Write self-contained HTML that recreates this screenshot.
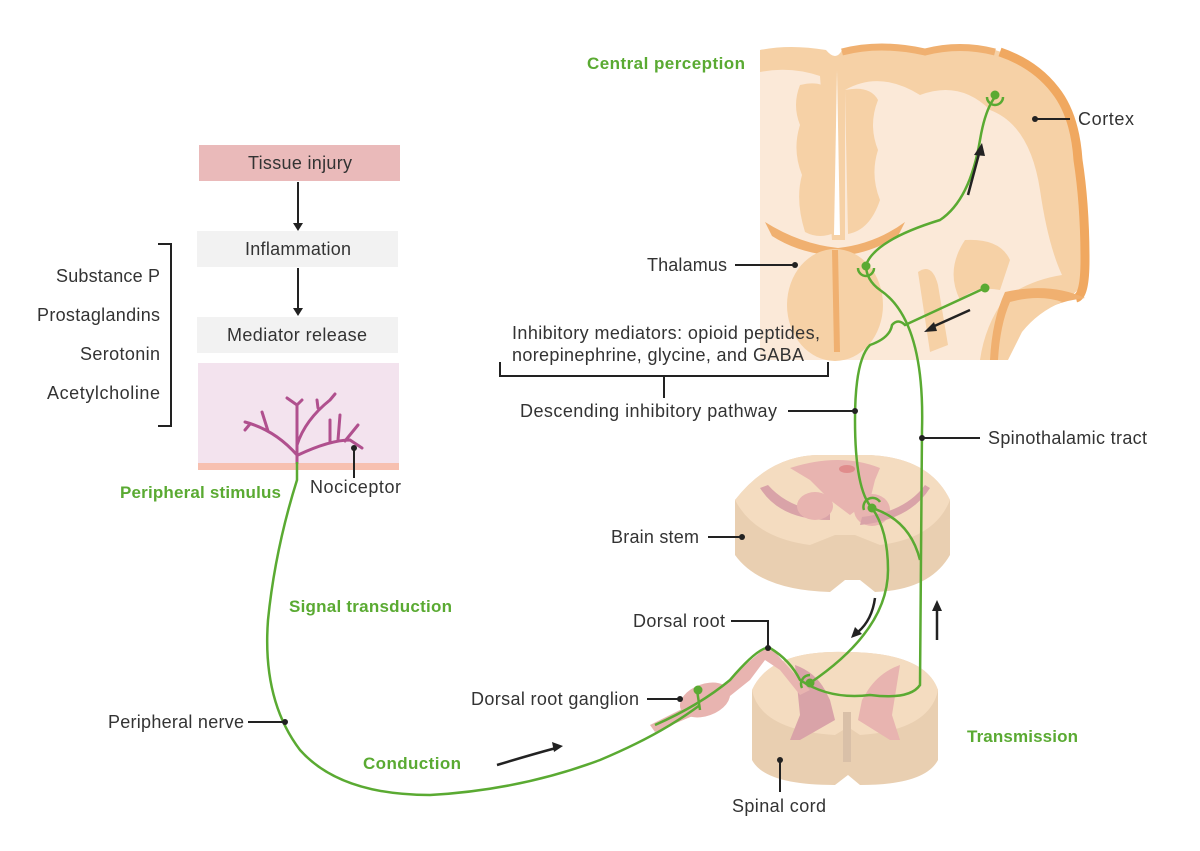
<!DOCTYPE html>
<html><head><meta charset="utf-8"><style>
html,body{margin:0;padding:0;background:#fff}
svg{display:block}
text{font-family:"Liberation Sans",sans-serif;font-size:18px;fill:#333}
.g{fill:#5aaa32;font-weight:bold;font-size:17px}
</style></head><body>
<svg width="1200" height="851" viewBox="0 0 1200 851" xmlns="http://www.w3.org/2000/svg">
<!-- Brain -->
<path d="M760 50 Q790 44 826 50 Q836 62 842 50 Q880 40 925 50 Q960 40 995 50 Q1035 62 1055 90 Q1075 115 1078 160 Q1085 205 1085 260 Q1085 296 1062 298 Q1030 300 1010 322 Q996 340 992 360 L760 360 Z" fill="#f6d1a6"/>
<path d="M1000 52 Q1035 64 1055 90 Q1075 115 1078 160 Q1085 205 1085 260 Q1085 296 1076 298" fill="none" stroke="#f0a860" stroke-width="9"/>
<path d="M842 52 Q880 42 925 52 Q960 43 995 52" fill="none" stroke="#f0b070" stroke-width="7"/>
<path d="M760 72 Q790 66 820 76 L832 240 L760 240 Z" fill="#fbe9d8"/>
<path d="M845 90 Q880 70 920 95 Q960 80 990 110 Q1030 125 1040 190 Q1048 245 1062 275 Q1030 280 1005 298 Q985 325 980 360 L850 360 L845 240 Z" fill="#fbe9d8"/>
<path d="M760 240 L850 240 L850 360 L760 360 Z" fill="#fbe9d8"/>
<!-- midline gyri -->
<path d="M800 85 Q820 80 830 90 L836 232 Q820 240 805 232 Q795 200 802 175 Q792 150 800 125 Q792 105 800 85 Z" fill="#f6d1a6"/>
<path d="M845 90 Q870 85 878 100 Q868 125 878 150 Q870 175 880 200 Q870 230 848 234 Z" fill="#f6d1a6"/>
<path d="M837 70 L840 235 L834 235 Z" fill="#fff"/>
<!-- thalamus region -->
<path d="M765 222 Q800 244 838 248 Q875 244 905 222 L898 236 Q870 254 838 256 Q800 254 772 236 Z" fill="#f0b070"/>
<ellipse cx="835" cy="305" rx="48" ry="56" fill="#f6d1a6"/>
<path d="M832 250 L838 250 L840 352 L834 352 Z" fill="#f0b070"/>
<!-- lower right -->
<path d="M965 240 Q1000 238 1010 260 L1000 290 Q975 285 960 300 Q945 270 965 240 Z" fill="#f6d1a6"/>
<path d="M918 272 Q932 262 938 285 L948 345 L930 352 Z" fill="#f6d1a6"/>
<path d="M1005 292 Q1050 282 1085 298 Q1050 302 1030 320 Q1012 338 1006 360 L990 360 Q992 320 1005 292 Z" fill="#f0b070"/>
<path d="M1010 302 Q1040 294 1062 302 Q1038 312 1022 332 L1008 360 L998 360 Q1000 325 1010 302 Z" fill="#f6d1a6"/>
<!-- Left flowchart -->
<rect x="199" y="145" width="201" height="36" fill="#eababa"/>
<text x="300" y="169" text-anchor="middle" textLength="104">Tissue injury</text>
<line x1="298" y1="182" x2="298" y2="224" stroke="#222" stroke-width="2"/>
<path d="M293 223 L298 231 L303 223 Z" fill="#222"/>
<rect x="197" y="231" width="201" height="36" fill="#f2f2f2"/>
<text x="298" y="255" text-anchor="middle" textLength="106">Inflammation</text>
<line x1="298" y1="268" x2="298" y2="309" stroke="#222" stroke-width="2"/>
<path d="M293 308 L298 316 L303 308 Z" fill="#222"/>
<rect x="197" y="317" width="201" height="36" fill="#f2f2f2"/>
<text x="297" y="341" text-anchor="middle" textLength="140">Mediator release</text>
<rect x="198" y="363" width="201" height="107" fill="#f3e3ee"/>
<rect x="198" y="463" width="201" height="7" fill="#f7c0b0"/>
<path d="M158 244 L171 244 L171 426 L158 426" fill="none" stroke="#222" stroke-width="2"/>
<text x="160" y="282" text-anchor="end" textLength="104">Substance P</text>
<text x="160" y="321" text-anchor="end" textLength="123">Prostaglandins</text>
<text x="160" y="360" text-anchor="end" textLength="80">Serotonin</text>
<text x="160" y="399" text-anchor="end" textLength="113">Acetylcholine</text>
<!-- nociceptor tree -->
<g fill="none" stroke="#b0508e" stroke-width="3" stroke-linecap="round">
<path d="M297 463 L297 405 L302 400 M297 405 L287 398"/>
<path d="M297 455 Q275 430 245 422 M268 431 L262 412 M250 424 L245 430"/>
<path d="M297 445 Q305 420 330 400 M318 408 L317 400 M330 400 L335 394"/>
<path d="M298 455 Q330 440 350 440 L362 448 M330 443 L330 420 M345 441 L358 425 M338 440 L340 415"/>
</g>
<line x1="354" y1="448" x2="354" y2="478" stroke="#222" stroke-width="2"/>
<circle cx="354" cy="448" r="3" fill="#222"/>
<text x="310" y="493" textLength="91">Nociceptor</text>
<!-- Brain stem -->
<path d="M735 500 Q770 455 820 455 L870 455 Q930 458 950 500 L950 555 Q930 590 875 592 L860 580 L845 580 L830 592 Q760 590 735 555 Z" fill="#e9cfb1"/>
<path d="M735 500 Q770 455 820 455 L870 455 Q930 458 950 500 Q935 538 880 545 L855 535 L835 535 L810 545 Q755 538 735 500 Z" fill="#f4dcc0"/>
<path d="M790 468 Q840 452 880 468 L875 480 L870 500 L850 515 L830 500 L810 480 Z" fill="#e8b4b0"/>
<ellipse cx="847" cy="469" rx="8" ry="4" fill="#e08c8c"/>
<path d="M760 488 Q780 520 830 520 L830 512 Q790 510 768 485 Z" fill="#d9a3a8"/>
<ellipse cx="815" cy="506" rx="18" ry="14" fill="#e8b4b0"/>
<ellipse cx="872" cy="510" rx="18" ry="16" fill="#e8b4b0"/>
<path d="M930 488 Q910 520 860 525 L862 517 Q905 512 925 485 Z" fill="#d9a3a8"/>
<!-- Spinal cord -->
<path d="M752 690 Q770 650 845 652 Q925 652 938 690 L938 760 Q925 785 860 785 L848 775 L835 785 Q765 785 752 760 Z" fill="#e9cfb1"/>
<path d="M752 690 Q770 650 845 652 Q925 652 938 690 Q930 730 860 735 L848 727 L835 735 Q760 730 752 690 Z" fill="#f4dcc0"/>
<path d="M795 665 Q815 672 825 690 L830 700 L835 720 L800 740 L790 740 L800 715 Z" fill="#d9a3a8"/>
<path d="M900 665 Q880 672 868 690 L862 700 L858 720 L890 740 L900 740 L892 715 Z" fill="#e8b4b0"/>
<rect x="843" y="712" width="8" height="50" fill="#d9c0a8"/>
<!-- dorsal root & ganglion -->
<path d="M650 725 L690 705 L720 690 L745 665 L765 648 L775 652 L800 680 L810 690 L800 695 L780 670 L765 660 L750 680 L725 700 L695 715 L655 732 Z" fill="#e8b4b0"/>
<ellipse cx="705" cy="700" rx="26" ry="16" fill="#e8b4b0" transform="rotate(-20 705 700)"/>
<!-- Green paths -->
<g fill="none" stroke="#5aaa32" stroke-width="2.5">
<path d="M297 462 L297 480 Q275 550 268 620 Q262 700 300 750 Q340 795 430 795 Q520 790 600 760 Q660 735 700 705"/>
<path d="M655 725 Q700 705 730 680 Q760 645 770 648 Q790 660 800 680 Q830 700 870 695 Q910 700 920 685 L922 430 Q925 320 880 290 Q866 280 866 265"/>
<path d="M697 690 L700 710"/>
<path d="M866 265 Q875 240 940 220 Q970 200 980 140 Q985 110 995 97"/>
<path d="M985 288 L905 325 Q898 318 892 325 Q890 338 870 345 Q855 360 855 420 Q855 490 872 508 Q888 530 888 570 Q888 630 810 683"/>
<path d="M872 508 Q910 520 920 560"/>
<path d="M858 268 A8 8 0 0 0 874 268"/>
<path d="M987 97 A8 8 0 0 0 1003 97"/>
<path d="M864 510 A9 9 0 0 1 880 502"/>
<path d="M802 688 A9 9 0 0 1 810 675"/>
</g>
<g fill="#5aaa32">
<circle cx="866" cy="266" r="4.5"/><circle cx="995" cy="95" r="4.5"/><circle cx="985" cy="288" r="4.5"/>
<circle cx="872" cy="508" r="4.5"/><circle cx="810" cy="683" r="4.5"/><circle cx="698" cy="690" r="4.5"/>
</g>
<!-- black arrows -->
<g stroke="#222" stroke-width="2.5" fill="none">
<path d="M968 195 L980 150"/><path d="M970 310 L930 328"/>
<path d="M875 598 Q872 620 858 632"/><path d="M937 640 L937 608"/>
<path d="M497 765 Q530 755 556 748"/>
</g>
<g fill="#222">
<path d="M982 143 L974 155 L985 156 Z"/><path d="M924 332 L934 322 L937 331 Z"/>
<path d="M851 638 L855 627 L862 634 Z"/><path d="M937 600 L932 611 L942 611 Z"/>
<path d="M563 746 L552 742 L554 752 Z"/>
</g>
<!-- label lines -->
<g stroke="#222" stroke-width="2" fill="none">
<path d="M1035 119 L1070 119"/><path d="M735 265 L795 265"/>
<path d="M500 362 L500 376 L828 376 L828 362 M664 376 L664 398"/>
<path d="M788 411 L855 411"/><path d="M922 438 L980 438"/>
<path d="M708 537 L742 537"/><path d="M731 621 L768 621 L768 648"/>
<path d="M647 699 L680 699"/><path d="M248 722 L285 722"/><path d="M780 760 L780 792"/>
</g>
<g fill="#222">
<circle cx="1035" cy="119" r="3"/><circle cx="795" cy="265" r="3"/><circle cx="855" cy="411" r="3"/>
<circle cx="922" cy="438" r="3"/><circle cx="742" cy="537" r="3"/><circle cx="768" cy="648" r="3"/>
<circle cx="680" cy="699" r="3"/><circle cx="285" cy="722" r="3"/><circle cx="780" cy="760" r="3"/>
</g>
<!-- labels -->
<text class="g" x="587" y="69" textLength="158">Central perception</text>
<text class="g" x="120" y="498" textLength="161">Peripheral stimulus</text>
<text class="g" x="289" y="612" textLength="163">Signal transduction</text>
<text class="g" x="363" y="769" textLength="98">Conduction</text>
<text class="g" x="967" y="742" textLength="111">Transmission</text>
<text x="1078" y="125" textLength="56">Cortex</text>
<text x="647" y="271" textLength="80">Thalamus</text>
<text x="512" y="339" textLength="308">Inhibitory mediators: opioid peptides,</text>
<text x="512" y="361" textLength="292">norepinephrine, glycine, and GABA</text>
<text x="520" y="417" textLength="257">Descending inhibitory pathway</text>
<text x="988" y="444" textLength="159">Spinothalamic tract</text>
<text x="611" y="543" textLength="88">Brain stem</text>
<text x="633" y="627" textLength="92">Dorsal root</text>
<text x="471" y="705" textLength="168">Dorsal root ganglion</text>
<text x="108" y="728" textLength="136">Peripheral nerve</text>
<text x="732" y="812" textLength="94">Spinal cord</text>
</svg>
</body></html>
